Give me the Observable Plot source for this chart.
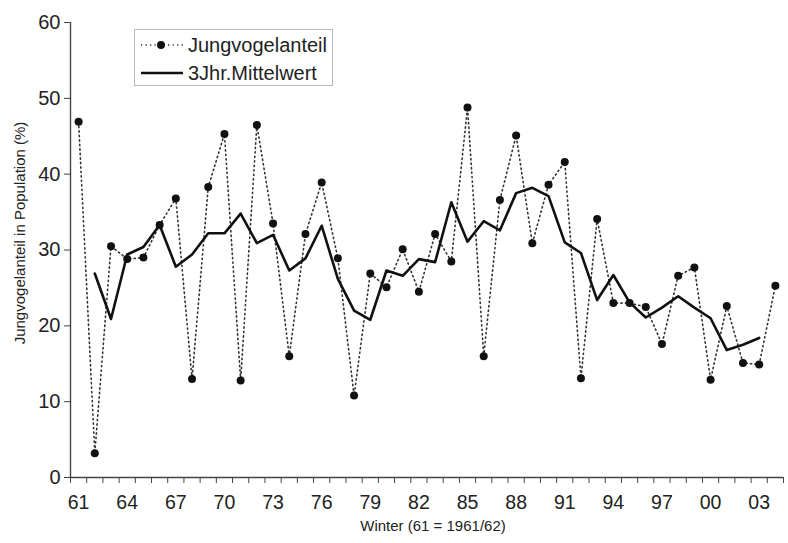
<!DOCTYPE html>
<html><head><meta charset="utf-8">
<script src="https://cdn.jsdelivr.net/npm/d3@7"></script>
<script src="https://cdn.jsdelivr.net/npm/@observablehq/plot@0.6"></script>
<style>
body{margin:0;background:#fff;}
#wrap{position:relative;width:788px;height:543px;font-family:"Liberation Sans",Arial,sans-serif;color:#222;}
#legend{position:absolute;left:134px;top:29px;width:197px;height:55px;border:1px solid #b8b8b8;background:#fff;}
#legend .row{position:absolute;left:5px;height:24px;display:flex;align-items:center;font-size:20px;}
#legend svg{margin-right:4px;}
</style>
</head><body>
<div id="wrap">
<div id="chart"></div>
<div id="legend">
  <div class="row" style="top:3px">
    <svg width="44" height="20"><line x1="1" y1="10" x2="43" y2="10" stroke="#333" stroke-width="1.6" stroke-dasharray="1.3,3.2"/><circle cx="21" cy="10" r="4" fill="#111"/></svg>
    <span>Jungvogelanteil</span>
  </div>
  <div class="row" style="top:31px">
    <svg width="44" height="20"><line x1="1" y1="10" x2="43" y2="10" stroke="#111" stroke-width="2.6"/></svg>
    <span>3Jhr.Mittelwert</span>
  </div>
</div>
</div>
<script>
// Winters (61 = 1961/62)
const winters = [1961,1962,1963,1964,1965,1966,1967,1968,1969,1970,1971,1972,1973,1974,1975,1976,1977,1978,1979,1980,1981,1982,1983,1984,1985,1986,1987,1988,1989,1990,1991,1992,1993,1994,1995,1996,1997,1998,1999,2000,2001,2002,2003,2004];
// Jungvogelanteil (%)
const jungvogelanteil = [46.9,3.2,30.5,28.8,29.0,33.3,36.8,13.0,38.3,45.3,12.8,46.5,33.5,16.0,32.1,38.9,28.9,10.8,26.9,25.1,30.1,24.5,32.1,28.5,48.8,16.0,36.6,45.1,30.9,38.6,41.6,13.1,34.1,23.0,23.0,22.5,17.6,26.6,27.7,12.9,22.6,15.1,14.9,25.3];
// 3Jhr.Mittelwert (%), winters 1962..2003
const mittelwertWinters = [1962,1963,1964,1965,1966,1967,1968,1969,1970,1971,1972,1973,1974,1975,1976,1977,1978,1979,1980,1981,1982,1983,1984,1985,1986,1987,1988,1989,1990,1991,1992,1993,1994,1995,1996,1997,1998,1999,2000,2001,2002,2003];
const mittelwert = [26.9,20.9,29.4,30.4,33.3,27.8,29.4,32.2,32.2,34.8,30.9,32.0,27.3,28.9,33.2,26.2,22.0,20.8,27.3,26.6,28.8,28.4,36.3,31.1,33.8,32.6,37.5,38.2,37.1,31.0,29.6,23.4,26.7,23.1,21.1,22.4,23.9,22.4,21.0,16.8,17.5,18.4];
// Tick labels
const xTickLabels = ["61","64","67","70","73","76","79","82","85","88","91","94","97","00","03"];
const yTicks = [0,10,20,30,40,50,60];
const xLabel = "Winter (61 = 1961/62)";
const yLabel = "Jungvogelanteil in Population (%)";

const raw = winters.map((w,i)=>({w, v: jungvogelanteil[i]}));
const avg = mittelwertWinters.map((w,i)=>({w, v: mittelwert[i]}));
const labelYears = xTickLabels.map(s => (+s < 50 ? 2000 : 1900) + (+s));
const xmin = winters[0] - 0.5, xmax = winters[winters.length-1] + 0.5;
const boundaries = winters.map(w => w - 0.5).concat([xmax]);

const axisColor = "#444";
const font = "'Liberation Sans', Arial, sans-serif";

const chart = Plot.plot({
  width: 788,
  height: 543,
  marginLeft: 70,
  marginRight: 5,
  marginTop: 22,
  marginBottom: 66,
  style: {fontFamily: font, background: "#fff", color: "#222"},
  x: {domain: [xmin, xmax]},
  y: {domain: [0, 60]},
  marks: [
    Plot.axisY({ticks: yTicks, tickSize: 6, tickPadding: 4, fontSize: 20, stroke: axisColor, label: null, tickFormat: d => String(d)}),
    Plot.axisX({ticks: boundaries, tickSize: 6, tickFormat: () => "", stroke: axisColor, label: null}),
    Plot.axisX({ticks: labelYears, tickSize: 0, tickPadding: 18, fontSize: 19.5, tickFormat: (d, i) => xTickLabels[i], label: null}),
    Plot.ruleY([0], {stroke: axisColor, strokeWidth: 1.4}),
    Plot.ruleX([xmin], {stroke: axisColor, strokeWidth: 1.4}),
    Plot.line(raw, {x: "w", y: "v", stroke: "#333", strokeWidth: 1.6, strokeDasharray: "1.3,3.2"}),
    Plot.line(avg, {x: "w", y: "v", stroke: "#111", strokeWidth: 2.6}),
    Plot.dot(raw, {x: "w", y: "v", r: 4, fill: "#111", stroke: "none"}),
    Plot.text([xLabel], {frameAnchor: "bottom", dy: 53, dx: 6, fontSize: 15, fill: "#222"}),
    Plot.text([yLabel], {frameAnchor: "left", textAnchor: "middle", dx: -50, dy: -17, rotate: -90, fontSize: 15, fill: "#222"})
  ]
});
document.getElementById("chart").appendChild(chart);
</script>
</body></html>
